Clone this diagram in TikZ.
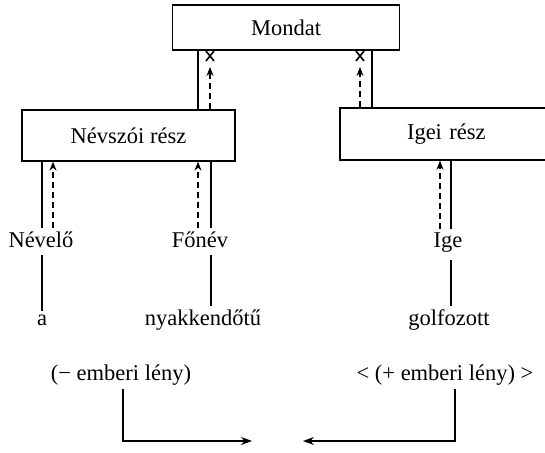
\documentclass[tikz,border=0pt]{standalone}
\usepackage{fontspec}
\setmainfont{Liberation Serif}
\usetikzlibrary{arrows.meta}
\begin{document}
\begin{tikzpicture}[x=1pt,y=-1pt,
  box/.style={draw, line width=1.3pt, inner sep=0pt, rectangle},
  word/.style={inner sep=0pt, anchor=base},
  sol/.style={line width=1.2pt},
  dsh/.style={line width=1.2pt, dash pattern=on 6pt off 4pt},
  up/.style={-{Stealth[length=9pt,width=7pt]}},
  cross/.style={line width=1.6pt},
  font=\fontsize{22.5}{26}\selectfont]
\useasboundingbox (0,0) rectangle (545,452);
\clip (0,0) rectangle (545,452);
% boxes
\node[box, minimum width=227pt, minimum height=45pt] (mondat) at (286,27.5) {Mondat};
\node[box, minimum width=213pt, minimum height=51pt] (nevszoi) at (128.5,135.5) {Névszói rész};
\node[box, minimum width=220pt, minimum height=52pt, text width=220pt, align=left] (igei) at (450,134) {\hspace*{67pt}Igei rész};
% words
\node[word] (nevelo) at (41,247) {Névelő};
\node[word] (fonev) at (200,247) {Főnév};
\node[word] (ige) at (448,247) {Ige};
\node[word] (a) at (42,325) {a};
\node[word] (nyak) at (203,325) {nyakkendőtű};
\node[word] (golf) at (449,325) {golfozott};
\node[word] (neg) at (121,380) {(− emberi lény)};
\node[word] (pos) at (445,380) {< (+ emberi lény) >};
% Mondat -- Nevszoi
\coordinate (tipL) at (210,67);
\draw[sol] (nevszoi.north -| 198,0) -- (mondat.south -| 198,0);
\draw[dsh,up] (nevszoi.north -| 210,0) -- (tipL);
\draw[cross] (206,51) -- (214,61) (214,51) -- (206,61);
% Mondat -- Igei
\coordinate (tipR) at (360,67);
\draw[sol] (igei.north -| 372,0) -- (mondat.south -| 372,0);
\draw[dsh,up] (igei.north -| 360,0) -- (tipR);
\draw[cross] (356,51) -- (364,61) (364,51) -- (356,61);
% Nevszoi -- Nevelo
\draw[sol] (nevszoi.south -| 42,0) -- ([yshift=3pt]nevelo.north -| 42,0);
\draw[dsh,up] ([yshift=3pt]nevelo.north -| 53,0) -- (nevszoi.south -| 53,0);
\draw[sol] ([yshift=-8pt]nevelo.south -| 42,0) -- ([yshift=3pt]a.north -| 42,0);
% Nevszoi -- Fonev
\draw[sol] (nevszoi.south -| 211,0) -- ([yshift=3pt]fonev.north -| 211,0);
\draw[dsh,up] ([yshift=3pt]fonev.north -| 198,0) -- (nevszoi.south -| 198,0);
\draw[sol] ([yshift=-8pt]fonev.south -| 211,0) -- ([yshift=3pt]nyak.north -| 211,0);
% Igei -- Ige
\draw[sol] (igei.south -| 451,0) -- ([yshift=3pt]ige.north -| 451,0);
\draw[dsh,up] ([yshift=3pt]ige.north -| 440,0) -- (igei.south -| 440,0);
\draw[sol] ([yshift=-8pt]ige.south -| 451,0) -- ([yshift=3pt]golf.north -| 451,0);
% bottom arrows
\coordinate (lt) at (252,441);
\coordinate (rt) at (303,441);
\draw[sol,-{Stealth[length=11pt,width=8pt]}] ([yshift=-4pt]neg.south -| 123,0) |- (lt);
\draw[sol,-{Stealth[length=11pt,width=8pt]}] ([yshift=-4pt]pos.south -| 455,0) |- (rt);
\end{tikzpicture}
\end{document}
